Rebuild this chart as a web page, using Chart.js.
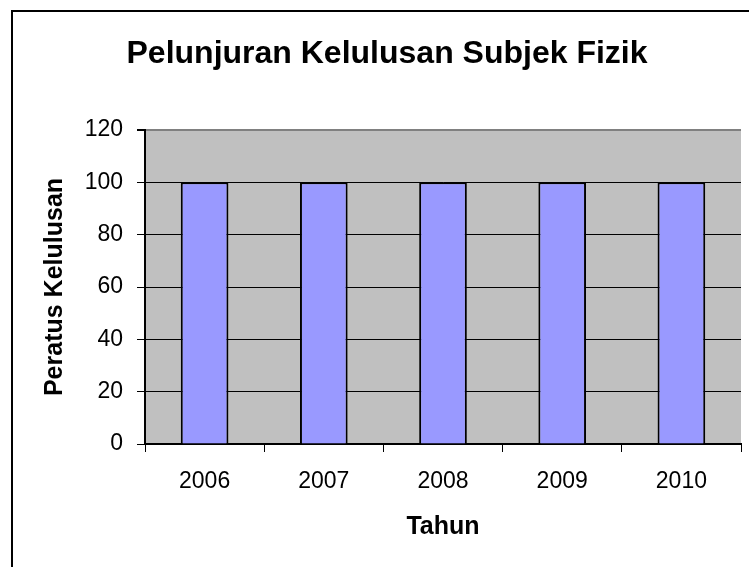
<!DOCTYPE html>
<html>
<head>
<meta charset="utf-8">
<script src="https://cdn.jsdelivr.net/npm/chart.js@4/dist/chart.umd.min.js"></script>
<style>
  body { margin: 0; background: #fff; }
  #wrap { width: 749px; height: 567px; }
</style>
</head>
<body>
<div id="wrap"><canvas id="chart" width="749" height="567"></canvas></div>
<script>
// data
const years = ["2006", "2007", "2008", "2009", "2010"];
const passRate = [100, 100, 100, 100, 100];
const yTicks = [0, 20, 40, 60, 80, 100, 120];

const FONT = "'Liberation Sans', Arial, sans-serif";

// gray plot background + outer frame
const backdrop = {
  id: "backdrop",
  beforeDraw(chart) {
    const { ctx, chartArea: a } = chart;
    ctx.save();
    ctx.fillStyle = "#c0c0c0";
    ctx.fillRect(a.left, a.top, a.right - a.left, a.bottom - a.top);
    ctx.strokeStyle = "#000";
    ctx.lineWidth = 2;
    ctx.strokeRect(12, 11, 1000, 1000);
    ctx.restore();
  }
};

const ctx = document.getElementById("chart");

new Chart(ctx, {
  type: "bar",
  data: {
    labels: years,
    datasets: [{
      data: passRate,
      backgroundColor: "#9999ff",
      borderColor: "#000",
      borderWidth: 2,
      categoryPercentage: 1,
      barPercentage: 0.4
    }]
  },
  options: {
    responsive: false,
    animation: false,
    layout: { padding: { left: 33, right: 8, top: 0, bottom: 0 } },
    plugins: {
      legend: { display: false },
      tooltip: { enabled: false },
      title: {
        display: true,
        text: "Pelunjuran Kelulusan Subjek Fizik",
        color: "#000",
        font: { family: FONT, size: 32, weight: "bold" },
        padding: { top: 35, bottom: 56.6 }
      }
    },
    scales: {
      x: {
        afterFit(scale) { scale.height = 123; },
        grid: {
          offset: true,
          drawOnChartArea: true,
          tickLength: 8,
          tickColor: "#000",
          lineWidth: ctx => ctx.index === years.length ? 2 : 1,
          color: ctx => ctx.index === years.length ? "#808080" : "rgba(0,0,0,0)"
        },
        border: { color: "#000", width: 2 },
        ticks: {
          color: "#000",
          padding: 16,
          font: { family: FONT, size: 23 }
        },
        title: {
          display: true,
          text: "Tahun",
          color: "#000",
          font: { family: FONT, size: 25, weight: "bold" },
          padding: { top: 0, bottom: 25 }
        }
      },
      y: {
        min: 0,
        max: 120,
        afterFit(scale) { scale.width = 112; },
        afterBuildTicks(scale) { scale.ticks = yTicks.map(v => ({ value: v })); },
        grid: {
          tickLength: 8,
          tickColor: "#000",
          lineWidth: ctx => ctx.tick && ctx.tick.value === 120 ? 2 : 1,
          color: ctx => ctx.tick && ctx.tick.value === 120 ? "#808080" : "#000"
        },
        border: { color: "#000", width: 2 },
        ticks: {
          color: "#000",
          padding: 14,
          font: { family: FONT, size: 23 }
        },
        title: {
          display: true,
          text: "Peratus Kelulusan",
          color: "#000",
          font: { family: FONT, size: 25, weight: "bold" },
          padding: { top: 7, bottom: 0 }
        }
      }
    }
  },
  plugins: [backdrop]
});
</script>
</body>
</html>
